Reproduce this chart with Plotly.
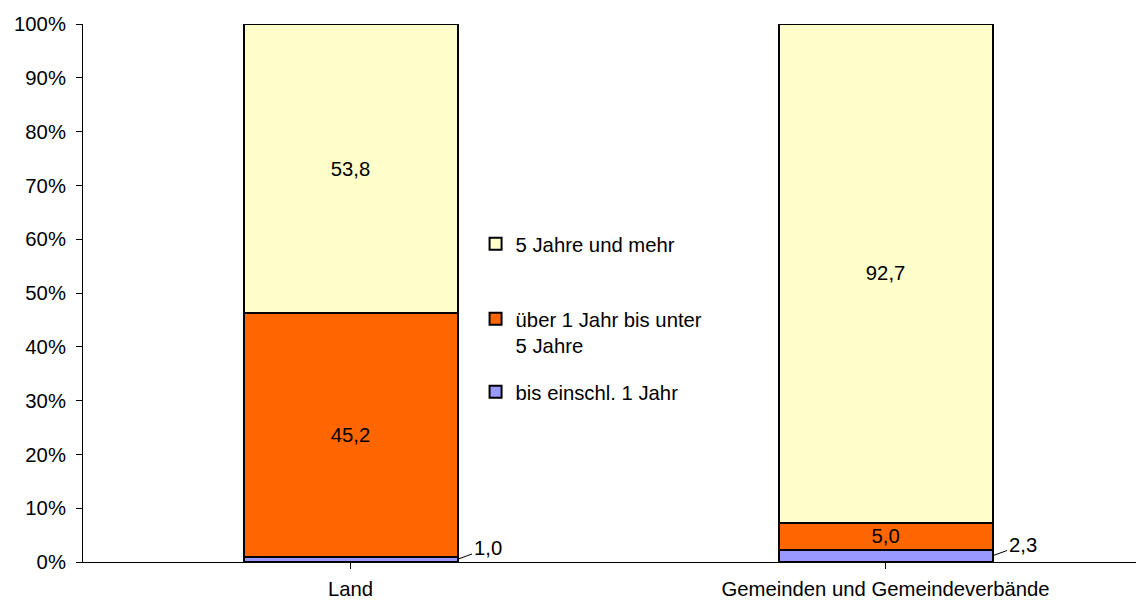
import plotly.graph_objects as go

# Data
categories = ['Land', 'Gemeinden und Gemeindeverbände']
bis_1_jahr = [1.0, 2.3]
ueber_1_bis_5 = [45.2, 5.0]
ab_5_jahre = [53.8, 92.7]

series_names = ['bis einschl. 1 Jahr', 'über 1 Jahr bis unter<br>5 Jahre', '5 Jahre und mehr']
colors = ['#9999FF', '#FF6600', '#FFFFCC']

FONT = dict(family='Liberation Sans, Arial, sans-serif', size=20.3, color='black')


def fmt(v):
	return ('%.1f' % v).replace('.', ',')


fig = go.Figure()

series = [bis_1_jahr, ueber_1_bis_5, ab_5_jahre]
legends = ['legend4', 'legend3', 'legend2']
for i, vals in enumerate(series):
	# small segments get a leader-line label instead
	txt = [fmt(v) for v in vals] if i > 0 else ['' for v in vals]
	fig.add_trace(go.Bar(
		x=list(range(len(categories))),
		y=vals,
		name=series_names[i],
		width=0.4,
		marker=dict(color=colors[i], line=dict(color='black', width=2)),
		text=txt,
		textposition='inside',
		insidetextanchor='middle',
		textfont=FONT,
		legend=legends[i],
		hoverinfo='skip',
		))

# leader-line labels for the small segments
for i, v in enumerate(bis_1_jahr):
	fig.add_annotation(
		x=i + 0.2, y=v / 2, xref='x', yref='y',
		text=fmt(v), font=FONT,
		showarrow=True, arrowhead=0, arrowwidth=1, arrowcolor='black',
		ax=30, ay=-11, standoff=0,
		)

# page body has an 8px margin, so the figure is a bit smaller than the window
leg = dict(bgcolor='rgba(0,0,0,0)', font=FONT, valign='top',
	xanchor='left', x=0.37, itemclick=False)

fig.update_layout(
	width=1136, height=593,
	margin=dict(l=75, r=0, t=16, b=39),
	barmode='stack',
	separators=',.',
	plot_bgcolor='white',
	paper_bgcolor='white',
	font=FONT,
	showlegend=True,
	uniformtext=dict(minsize=20, mode='show'),
	legend2=dict(leg, y=(562 - 244) / 538, yanchor='middle'),
	legend3=dict(leg, y=(562 - 332) / 538, yanchor='middle'),
	legend4=dict(leg, y=(562 - 392) / 538, yanchor='middle'),
	xaxis=dict(
		range=[-0.5, 1.483],
		tickmode='array',
		tickvals=list(range(len(categories))),
		ticktext=categories,
		tickson='boundaries',
		ticks='outside', ticklen=6, tickcolor='black',
		ticklabelstandoff=3,
		showline=True, linecolor='black', linewidth=1,
		showgrid=False, zeroline=False,
		automargin=False,
		),
	yaxis=dict(
		range=[0, 100],
		dtick=10,
		ticksuffix='%',
		ticks='outside', ticklen=6, tickcolor='black',
		ticklabelstandoff=6,
		showline=True, linecolor='black', linewidth=1,
		showgrid=False, zeroline=False,
		automargin=False,
		),
)

fig.write_html('out.html')
